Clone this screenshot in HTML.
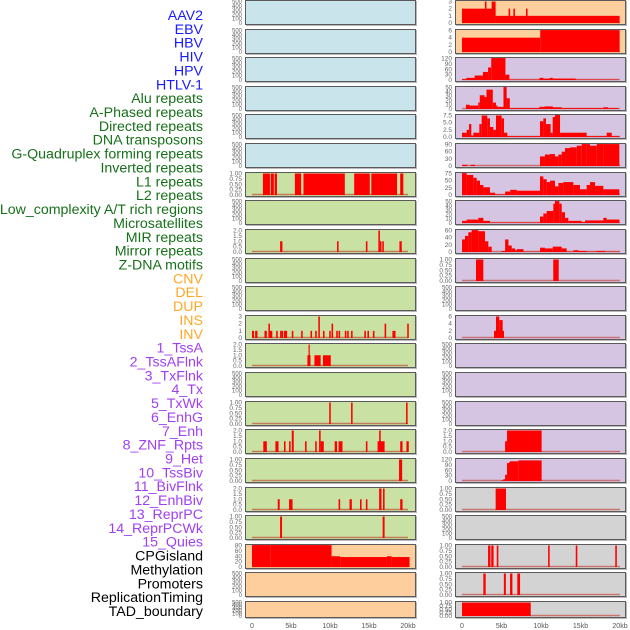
<!DOCTYPE html>
<html><head><meta charset="utf-8"><style>
html,body{margin:0;padding:0;background:#fff;width:630px;height:630px;overflow:hidden}
svg{display:block}
text{font-family:"Liberation Sans",sans-serif}
</style></head><body>
<svg id="chart" width="630" height="630" xmlns="http://www.w3.org/2000/svg"></svg>
<script>
// ---- labels ----
const labelNames=["AAV2","EBV","HBV","HIV","HPV","HTLV-1","Alu repeats","A-Phased repeats","Directed repeats","DNA transposons","G-Quadruplex forming repeats","Inverted repeats","L1 repeats","L2 repeats","Low_complexity A/T rich regions","Microsatellites","MIR repeats","Mirror repeats","Z-DNA motifs","CNV","DEL","DUP","INS","INV","1_TssA","2_TssAFlnk","3_TxFlnk","4_Tx","5_TxWk","6_EnhG","7_Enh","8_ZNF_Rpts","9_Het","10_TssBiv","11_BivFlnk","12_EnhBiv","13_ReprPC","14_ReprPCWk","15_Quies","CPGisland","Methylation","Promoters","ReplicationTiming","TAD_boundary"];
const labelGroups=[0,0,0,0,0,0,1,1,1,1,1,1,1,1,1,1,1,1,1,2,2,2,2,2,3,3,3,3,3,3,3,3,3,3,3,3,3,3,3,4,4,4,4,4];
const groupColors=["#1a1aff","#17701a","#ffa726","#a040f0","#000000"];
// ---- tick arrays ----
const xTickKb=[0,5,10,15,20];
const xTickLabels=["0","5kb","10kb","15kb","20kb"];
const tEmpty=[0,100,200,300,400,500];
const tOne=[0,0.25,0.5,0.75,1];
const tOneLbl=["0.00","0.25","0.50","0.75","1.00"];
const tTwo=[0,0.5,1,1.5,2];
const tTwoLbl=["0.0","0.5","1.0","1.5","2.0"];
// ---- background colours per row ----
const leftBg=["b","b","b","b","b","b","g","g","g","g","g","g","g","g","g","g","g","g","g","p","p","p"];
const rightBg=["p","p","v","v","v","v","v","v","v","v","v","v","v","v","v","v","v","y","y","y","y","y"];
const bgColors={b:"#c9e4eb",g:"#c9e1a2",p:"#fecf9d",v:"#d6c5e2",y:"#d3d3d3"};
// ---- left column data: [startKb,endKb,value] ----
const L1=[[1.4,2.3,1],[2.4,2.8,1],[2.9,3.2,1],[5.5,6.3,1],[6.6,11.9,1],[13.1,15.1,1],[15.3,18.6,1],[19.0,19.4,1]];
const MIR=[[3.6,3.9,1],[10.9,11.1,1],[14.6,14.8,1],[16.2,16.4,2],[16.4,16.6,1],[16.7,16.9,1],[18.9,19.2,1]];
const INVL=[[0.0,0.25,1],[0.4,0.7,1],[1.6,1.9,1],[2.1,2.3,2],[2.3,2.6,1],[3.1,3.3,1],[3.6,3.8,1],[3.8,4.0,1],[4.1,4.3,1],[4.3,4.5,1],[5.1,5.3,1],[6.3,6.5,1],[7.5,7.7,1],[8.1,8.3,1],[8.5,8.7,3],[9.1,9.3,1],[9.9,10.1,1],[10.2,10.4,2],[10.8,11.0,1],[11.1,11.3,1],[11.9,12.1,1],[12.2,12.4,1],[12.7,12.9,1],[14.4,14.6,1],[14.8,15.0,1],[15.5,15.7,1],[17.0,17.2,2],[18.0,18.2,1],[18.2,18.4,1],[19.9,20.1,2]];
const TSSA=[[7.1,7.5,1],[7.25,7.4,2],[8.0,8.8,1],[9.1,10.1,1]];
const ENH5=[[9.9,10.1,1],[12.7,12.9,1],[19.75,19.95,1]];
const ENH8=[[1.45,1.9,1],[3.0,3.4,1],[4.1,4.3,1],[4.75,4.95,1],[5.1,5.35,2],[6.8,7.0,1],[8.1,8.3,1],[8.6,8.8,2],[8.8,9.2,1],[10.6,10.9,1],[11.1,11.6,1],[14.6,14.8,1],[16.1,17.0,1],[16.3,16.5,2],[19.0,19.3,1],[19.8,20.1,1]];
const HET=[[18.85,19.25,1]];
const BIVF=[[3.3,3.55,1],[4.75,5.2,1],[11.1,11.3,1],[12.5,12.8,1],[13.85,14.05,1],[14.6,14.8,1],[16.3,16.6,2],[16.8,17.0,2],[19.0,19.3,1]];
const REPR=[[3.6,3.85,1],[16.75,17.0,1]];
const CPG=[[0,2.4,84],[2.4,10.2,82],[10.2,11.3,40],[11.3,17.3,37],[17.3,17.9,40],[17.9,20.2,37]];
// ---- right column data ----
const AAV2=[[0,4.25,2],[4.25,19.95,1],[2.9,3.1,3],[3.75,4.25,3],[5.9,6.1,2],[6.5,6.7,2],[8.1,8.3,2]];
const HBVR=[[0,9.9,4],[9.9,19.95,7]];
const HIV=[[0,0.55,5],[0.55,1.6,12],[1.6,2.65,25],[2.65,3.3,45],[3.3,3.7,70],[3.7,5.5,125],[5.5,6.0,30],[6.0,9.8,2],[9.8,10.3,12],[10.3,11.1,8],[11.1,11.5,12],[11.5,14.4,8],[14.4,19.8,2]];
const HPV=[[0.5,0.95,10],[0.95,2.05,8],[2.05,2.25,15],[2.25,2.85,32],[2.85,3.1,28],[3.1,3.9,45],[3.9,4.3,15],[4.3,4.5,8],[4.5,5.25,5],[5.25,5.65,55],[5.65,6.05,25],[6.05,9.8,2],[9.8,10.45,5],[10.45,11.5,6],[11.5,12.6,4],[12.6,17.9,2],[17.9,18.5,4],[18.5,19.8,2]];
const R5=[[0,0.59,1.5],[0.59,0.89,2.5],[0.89,1.18,4.5],[1.18,1.43,0.5],[1.43,2.19,1.5],[2.19,2.49,4.5],[2.49,3.2,7.5],[3.2,3.54,6.5],[3.54,3.97,3.5],[3.97,4.3,2.5],[4.3,5.02,7.5],[5.02,5.32,6.5],[5.32,5.74,1.5],[5.74,9.87,0.3],[9.87,10.3,5.5],[10.3,10.63,6.5],[10.63,11.22,4.5],[11.22,11.48,1.5],[11.48,11.77,7],[11.77,12.41,9],[12.41,15.78,1.5],[15.78,18.31,0.3],[18.31,18.95,1.5],[18.95,19.92,0.3]];
const GQ=[[0,0.67,5],[1.1,1.64,5],[9.87,10.5,40],[10.5,11.14,48],[11.14,11.77,50],[11.77,12.2,40],[12.2,12.62,48],[12.62,13.04,60],[13.04,13.67,75],[13.67,14.52,78],[14.52,15.15,85],[15.15,15.78,98],[15.78,16.2,95],[16.2,17.05,85],[17.05,17.89,95],[17.89,19.92,100]];
const R7=[[0,0.59,90],[0.59,1.43,70],[1.43,1.86,60],[1.86,2.28,50],[2.28,2.71,35],[2.71,3.54,27],[3.54,4.19,8],[4.19,5.46,2],[5.46,6.1,12],[6.1,6.94,18],[6.94,9.87,15],[9.87,10.3,65],[10.3,10.72,55],[10.72,11.14,45],[11.14,11.77,50],[11.77,12.2,30],[12.2,12.83,42],[12.83,14.1,45],[14.1,14.94,35],[14.94,15.78,20],[15.78,16.2,35],[16.2,16.84,45],[16.84,17.89,32],[17.89,19.92,20]];
const R8=[[0,0.59,5],[0.59,2.07,8],[2.07,2.71,12],[2.71,3.54,5],[3.54,9.87,1],[9.87,10.3,15],[10.3,10.72,22],[10.72,11.56,28],[11.56,11.77,45],[11.77,12.32,52],[12.32,12.62,45],[12.62,13.04,25],[13.04,13.46,12],[13.46,15.15,5],[15.15,15.57,2],[15.57,17.89,6],[17.89,18.31,12],[18.31,19.92,8]];
const R9=[[0,0.38,35],[0.38,0.8,45],[0.8,1.22,55],[1.22,2.07,63],[2.07,2.91,58],[2.91,3.33,30],[3.33,3.76,15],[5.02,5.46,3],[5.46,5.88,35],[5.88,6.3,18],[6.3,6.72,10],[6.72,6.94,5],[6.94,7.78,8],[7.78,9.87,1],[9.87,10.5,12],[10.5,11.48,10],[11.48,12.62,15],[12.62,13.25,10],[13.25,14.1,1],[14.1,14.73,5],[14.73,15.78,3],[15.78,17.05,1],[17.05,18.1,3],[18.1,19.92,1]];
const R10=[[1.77,2.7,1],[11.55,12.24,1]];
const R12=[[4.05,5.32,2],[4.3,4.72,6],[4.72,5.15,5]];
const R16=[[5.45,5.7,1],[5.7,10.08,2]];
const R17=[[5.02,5.23,5],[5.23,5.45,10],[5.45,5.7,35],[5.7,5.95,100],[5.95,6.08,105],[6.08,7.13,110],[7.13,10.08,115]];
const R18=[[4.26,5.57,1]];
const R20=[[3.3,3.6,1],[3.7,4.0,1],[4.4,4.6,1],[10.9,11.1,1],[14.4,14.6,1],[19.4,19.6,1]];
const R21=[[2.7,3.0,1],[5.3,5.55,1],[6.08,6.38,1],[7.0,7.35,1]];
const R22=[[0,8.7,1]];
// panel spec: [data, tickValues, tickLabels]
const E=[null,tEmpty,null];
const leftPanels=[E,E,E,E,E,E,[L1,tOne,tOneLbl],E,[MIR,tTwo,tTwoLbl],E,E,[INVL,[0,1,2,3],null],[TSSA,tTwo,tTwoLbl],E,[ENH5,tOne,tOneLbl],[ENH8,tTwo,tTwoLbl],[HET,tOne,tOneLbl],[BIVF,tTwo,tTwoLbl],[REPR,tOne,tOneLbl],[CPG,[0,20,40,60,80],null],E,E];
const rightPanels=[[AAV2,[0,1,2,3],null],[HBVR,[0,2,4,6],null],[HIV,[0,30,60,90,120],null],[HPV,[0,10,20,30,40,50],null],[R5,[0,2.5,5,7.5],["0.0","2.5","5.0","7.5"]],[GQ,[0,30,60,90],null],[R7,[0,25,50,75],null],[R8,[0,10,20,30,40,50],null],[R9,[0,20,40,60],null],[R10,tOne,tOneLbl],E,[R12,[0,2,4,6],null],E,E,E,[R16,tTwo,tTwoLbl],[R17,[0,30,60,90,120],null],[R18,tOne,tOneLbl],E,[R20,tOne,tOneLbl],[R21,tOne,tOneLbl],[R22,tOne,tOneLbl]];

const svg=document.getElementById('chart');
const NS="http://www.w3.org/2000/svg";
function mk(tag,attrs,parent){const e=document.createElementNS(NS,tag);for(const k in attrs)e.setAttribute(k,attrs[k]);(parent||svg).appendChild(e);return e;}

// labels
labelNames.forEach((n,i)=>{
  const t=mk('text',{x:203,y:(20+i*13.86).toFixed(1),'text-anchor':'end','font-size':'14.2',fill:groupColors[labelGroups[i]]});
  t.textContent=n;
  
  
});

const cols=[{x:245,w:171,x0:252,pxkb:7.8,panels:leftPanels,bg:leftBg,name:'left'},{x:455,w:171,x0:462,pxkb:7.9,panels:rightPanels,bg:rightBg,name:'right'}];
function rowTop(i){return Math.round(i*28.62);}
cols.forEach(c=>{
  const xs=kb=>c.x0+kb*c.pxkb;
  c.panels.forEach((p,i)=>{
    const top=rowTop(i), h=(i===21)?17:25;
    const g=mk('g',{});
    
    
    mk('rect',{x:c.x+1,y:top+1,width:c.w,height:h,fill:'#b8b8b8'},g);
    mk('rect',{x:c.x+0.5,y:top+0.5,width:c.w-1,height:h-1,fill:bgColors[c.bg[i]],stroke:'#5a5a5a','stroke-width':1},g);
    const ticks=p[1];const tmax=ticks[ticks.length-1];
    const yb=top+h-2, yt=top+1.5;
    const ys=v=>yb-(Math.min(v,tmax*1.02)/tmax)*(yb-yt);
    ticks.forEach((tv,k)=>{
      const lbl=p[2]?p[2][k]:String(tv);
      const t=mk('text',{x:c.x-3,y:(ys(tv)+2).toFixed(1),'text-anchor':'end','font-size':(ticks.length>5?6:6.5),fill:'#666'},g);
      t.textContent=lbl;
      
      
    });
    if(p[0]){
      mk('line',{x1:xs(0),x2:xs(20),y1:yb-0.5,y2:yb-0.5,stroke:'#c0392b','stroke-opacity':0.6,'stroke-width':1.5},g);
      p[0].forEach(s=>{
        const r=mk('rect',{x:xs(s[0]).toFixed(2),y:ys(s[2]).toFixed(2),width:Math.max(1.2,(s[1]-s[0])*c.pxkb).toFixed(2),height:(yb-ys(s[2])).toFixed(2),fill:'#ff0000'},g);
        
        
      });
    }
  });
  xTickKb.forEach((kb,k)=>{
    const t=mk('text',{x:xs(kb),y:628,'text-anchor':'middle','font-size':7,fill:'#555'});
    t.textContent=xTickLabels[k];
    
    
  });
});
</script>
</body></html>
